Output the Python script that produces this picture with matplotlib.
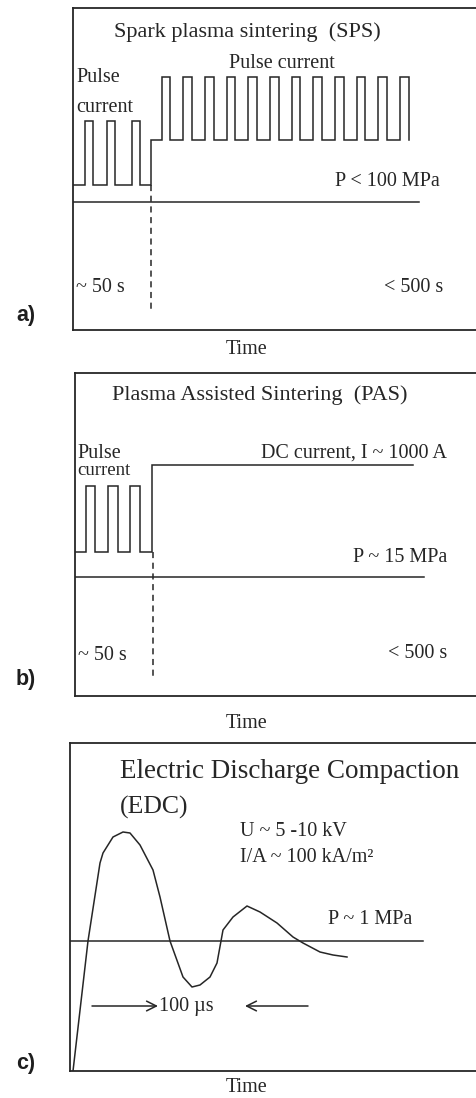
import matplotlib
matplotlib.use("Agg")
import matplotlib.pyplot as plt

W, H = 476, 1098
SERIF = ["Liberation Serif", "DejaVu Serif"]
SANS = ["Liberation Sans", "DejaVu Sans"]
LC = "#262626"
FS = 14.5       # body text
FS_T = 16       # panel titles a/b
LW = 1.1

# ---------------- data (schematic units: time / level) ----------------
# Panel a: SPS
sps_pre_low, sps_pre_high = 145, 209
sps_pre_rise = [12, 34, 59]
sps_pre_fall = [20, 42, 67]
sps_switch_t = 78
sps_main_low, sps_main_high = 190, 253
sps_main_rise = [89, 110, 132, 154, 175, 197, 219, 240, 262, 284, 305, 327]
sps_main_fall = [97, 119, 141, 162, 184, 206, 227, 249, 271, 292, 314, 336]
sps_pressure, sps_pressure_end = 128, 346
sps_dash_bottom = 20

# Panel b: PAS
pas_pre_low, pas_pre_high = 144, 210
pas_pre_rise = [11, 33, 55]
pas_pre_fall = [20, 43, 65]
pas_switch_t = 77
pas_dc_level, pas_dc_end = 231, 338
pas_pressure, pas_pressure_end = 119, 349
pas_dash_bottom = 18

# Panel c: EDC discharge curve
edc_t = [3, 18, 30, 33, 43, 53, 60, 70, 83, 90, 100, 113, 122, 130, 140,
         147, 153, 163, 177, 190, 207, 223, 233, 250, 263, 277]
edc_v = [0, 130, 208, 218, 234, 239, 238, 226, 201, 174, 130, 94, 84, 86, 94,
         108, 141, 154, 165, 159, 148, 134, 128, 119, 116, 114]
edc_pressure, edc_pressure_end = 130, 353
edc_arrow_level = 65
edc_arrow_right = (22, 88)
edc_arrow_left = (238, 175)

# panel boxes in pixel coordinates: (left, top, bottom)
boxes = {"a": (73, 8, 330), "b": (75, 373, 696), "c": (70, 743, 1071)}

fig = plt.figure(figsize=(W / 100, H / 100), dpi=100)


def make_ax(key):
    x0, top, yb = boxes[key]
    ax = fig.add_axes([x0 / W, 1 - yb / H, (W - x0) / W, (yb - top) / H])
    ax.set_xlim(0, W - x0)
    ax.set_ylim(0, yb - top)
    ax.set_xticks([])
    ax.set_yticks([])
    ax.spines["right"].set_visible(False)
    for s in ("left", "top", "bottom"):
        ax.spines[s].set_linewidth(1.3)
        ax.spines[s].set_color(LC)
    ax.patch.set_alpha(0)
    return ax


def pulse_path(start_t, low, high, rises, falls):
    xs, ys = [start_t], [low]
    for r, f in zip(rises, falls):
        xs += [r, r, f, f]
        ys += [low, high, high, low]
    return xs, ys


def txt(ax, x, y, s, ha="left", size=FS):
    ax.text(x, y, s, ha=ha, va="center", family=SERIF, fontsize=size, color=LC)


def label(y_px, s):
    fig.text(26 / W, 1 - y_px / H, s, ha="center", va="center", family=SANS,
             fontweight="bold", fontsize=15.5, color="#1e1e1e")


# ---------------- Panel a ----------------
ax = make_ax("a")
xs, ys = pulse_path(0, sps_pre_low, sps_pre_high, sps_pre_rise, sps_pre_fall)
xs += [sps_switch_t, sps_switch_t]
ys += [sps_pre_low, sps_main_low]
x2, y2 = pulse_path(sps_switch_t, sps_main_low, sps_main_high, sps_main_rise, sps_main_fall)
ax.plot(xs + x2, ys + y2, color=LC, lw=LW, solid_joinstyle="miter")
ax.plot([0, sps_pressure_end], [sps_pressure, sps_pressure], color=LC, lw=LW)
ax.plot([sps_switch_t, sps_switch_t], [sps_pre_low, sps_dash_bottom], color=LC,
        lw=LW, ls=(0, (4, 3)))
txt(ax, 174, 298, "Spark plasma sintering  (SPS)", ha="center", size=FS_T)
txt(ax, 209, 267, "Pulse current", ha="center")
txt(ax, 3, 252, "Pulse")
txt(ax, 3, 223, "current")
txt(ax, 367, 148, "P < 100 MPa", ha="right")
txt(ax, 3, 43, "~ 50 s")
txt(ax, 370, 43, "< 500 s", ha="right")
txt(ax, 174, -20, "Time", ha="center")
label(315, "a)")

# ---------------- Panel b ----------------
ax = make_ax("b")
xs, ys = pulse_path(0, pas_pre_low, pas_pre_high, pas_pre_rise, pas_pre_fall)
xs += [pas_switch_t, pas_switch_t, pas_dc_end]
ys += [pas_pre_low, pas_dc_level, pas_dc_level]
ax.plot(xs, ys, color=LC, lw=LW, solid_joinstyle="miter")
ax.plot([0, pas_pressure_end], [pas_pressure, pas_pressure], color=LC, lw=LW)
ax.plot([pas_switch_t + 1, pas_switch_t + 1], [pas_pre_low, pas_dash_bottom], color=LC,
        lw=LW, ls=(0, (4, 3)))
txt(ax, 185, 301, "Plasma Assisted Sintering  (PAS)", ha="center", size=FS_T)
txt(ax, 2, 243, "Pulse")
txt(ax, 2, 226, "current", size=13.5)
txt(ax, 372, 243, "DC current, I ~ 1000 A", ha="right")
txt(ax, 372, 139, "P ~ 15 MPa", ha="right")
txt(ax, 3, 40, "~ 50 s")
txt(ax, 372, 42, "< 500 s", ha="right")
txt(ax, 172, -27, "Time", ha="center")
label(680, "b)")

# ---------------- Panel c ----------------
ax = make_ax("c")
ax.plot(edc_t, edc_v, color=LC, lw=LW)
ax.plot([0, edc_pressure_end], [edc_pressure, edc_pressure], color=LC, lw=LW)
arrow_kw = dict(arrowstyle="->,head_length=0.7,head_width=0.35", color=LC, lw=LW,
                shrinkA=0, shrinkB=0)
ax.annotate("", xy=(edc_arrow_right[1], edc_arrow_level),
            xytext=(edc_arrow_right[0], edc_arrow_level), arrowprops=arrow_kw)
ax.annotate("", xy=(edc_arrow_left[1], edc_arrow_level),
            xytext=(edc_arrow_left[0], edc_arrow_level), arrowprops=arrow_kw)
txt(ax, 220, 299, "Electric Discharge Compaction", ha="center", size=19.5)
txt(ax, 50, 264, "(EDC)", size=18.5)
txt(ax, 170, 239, "U ~ 5 -10 kV")
txt(ax, 170, 213, "I/A ~ 100 kA/m²")
txt(ax, 258, 151, "P ~ 1 MPa")
txt(ax, 89, 65, "100 µs")
txt(ax, 177, -17, "Time", ha="center")
label(1063, "c)")

fig.savefig("out.png", dpi=100, facecolor="white")
